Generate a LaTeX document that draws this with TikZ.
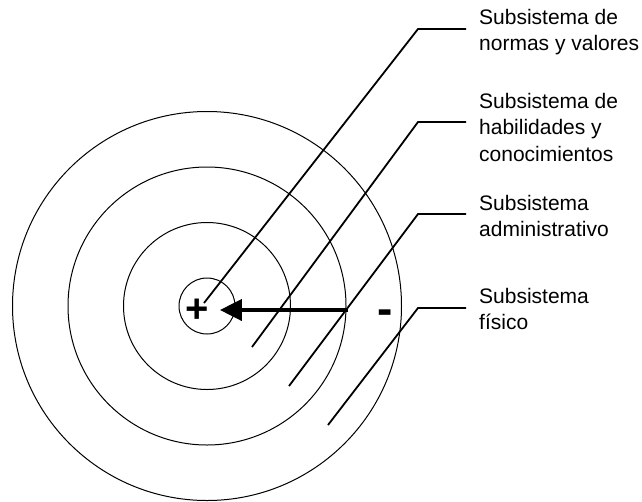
\documentclass[tikz,border=0pt]{standalone}
\usepackage{fontspec}
\setmainfont{Liberation Sans}
\usetikzlibrary{arrows.meta}

\tikzset{
  ring/.style={draw, circle, line width=1pt, inner sep=0pt},
  subtext/.style={anchor=north west, align=left, inner xsep=13pt, inner ysep=0pt, font=\fontsize{21}{26.5}\selectfont},
  sign/.style={font=\fontsize{40}{40}\selectfont\bfseries, inner ysep=0pt},
  leader/.style={line width=1.8pt}
}

\begin{document}
\begin{tikzpicture}[x=1pt, y=-1pt]
    \useasboundingbox (0,0) rectangle (642,501);

    \node (fisico) [ring, minimum size=389pt] at (207,306) {};
    \node (admin) [ring, minimum size=278pt] at (207,306) {};
    \node (habil) [ring, minimum size=167pt] at (207,306) {};
    \node (normas) [ring, minimum size=56pt] at (207,306) {};

    \node (mas) [sign, inner xsep=11pt] at (197,311) {+};
    \node (menos) [sign, inner xsep=0pt, font=\fontsize{46}{46}\selectfont\bfseries] at (385,317) {-};

    \node (t1) [subtext] at (466,8.7) {Subsistema de\\normas y valores};
    \node (t2) [subtext] at (466,92.7) {Subsistema de\\habilidades y\\conocimientos};
    \node (t3) [subtext] at (466,194.7) {Subsistema\\administrativo};
    \node (t4) [subtext] at (466,287.7) {Subsistema\\físico};

    \coordinate (s1) at (204,303);
    \coordinate (s2) at (252,347);
    \coordinate (s3) at (289,386);
    \coordinate (s4) at (328,425);
    \coordinate (b1) at (418,29);
    \coordinate (b2) at (418,122);
    \coordinate (b3) at (418,214);
    \coordinate (b4) at (418,308);
    \coordinate (flecha) at (348,310);

    \draw[leader] (s1) -- (b1) -- (b1 -| t1.west);
    \draw[leader] (s2) -- (b2) -- (b2 -| t2.west);
    \draw[leader] (s3) -- (b3) -- (b3 -| t3.west);
    \draw[leader] (s4) -- (b4) -- (b4 -| t4.west);

    \draw[line width=4pt, -{Triangle[length=22pt, width=21pt]}] (flecha) -- (flecha -| mas.east);
\end{tikzpicture}
\end{document}
